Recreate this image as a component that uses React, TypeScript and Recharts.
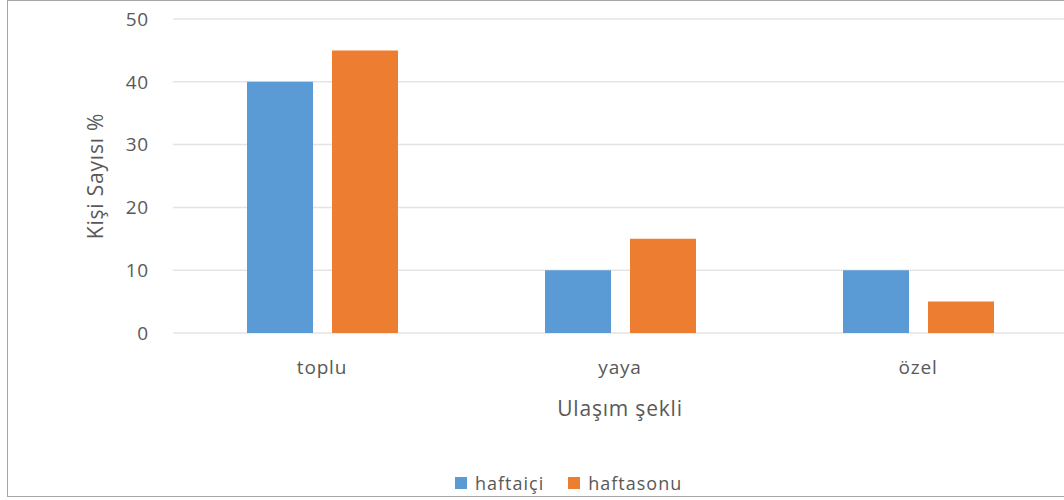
import React from 'react';
import { BarChart, Bar, XAxis, YAxis, CartesianGrid, Legend, Label } from 'recharts';

const categories = ['toplu', 'yaya', 'özel'];
const haftaici = [40, 10, 10];
const haftasonu = [45, 15, 5];
const seriesNames = ['haftaiçi', 'haftasonu'];
const seriesColors = ['#5B9BD5', '#ED7D31'];
const yTicks = [0, 10, 20, 30, 40, 50];

const data = categories.map((name, i) => ({
  name,
  haftaici: haftaici[i],
  haftasonu: haftasonu[i]
}));

const font = '"Open Sans", sans-serif';
const textColor = '#595959';

const renderLegend = () => (
  <div style={{ display: 'flex', alignItems: 'center', fontFamily: font, fontSize: 18, letterSpacing: 1, color: textColor }}>
    {seriesNames.map((s, i) => (
      <div key={s} style={{ display: 'flex', alignItems: 'center', marginRight: 24 }}>
        <div style={{ width: 12, height: 12, backgroundColor: seriesColors[i], marginRight: 8 }}></div>
        <span>{s}</span>
      </div>
    ))}
  </div>
);

export default function App() {
  return (
    <div style={{ position: 'absolute', left: 0, top: 0, width: 1064, height: 500, overflow: 'hidden', background: '#fff' }}>
      <div
        style={{
          position: 'absolute',
          left: 7,
          top: 0,
          width: 1100,
          height: 495,
          borderTop: '1.5px solid #a6a6a6',
          borderLeft: '1.5px solid #a6a6a6',
          borderBottom: '1.5px solid #a6a6a6'
        }}
      ></div>
      <div style={{ position: 'absolute', left: 0, top: 0 }}>
        <BarChart
          width={1067}
          height={500}
          data={data}
          margin={{ top: 19, right: 0, bottom: 2, left: 0 }}
          barSize={66}
          barGap={19}
        >
          <CartesianGrid vertical={false} stroke="#e4e4e4" strokeWidth={1.5} />
          <XAxis
            dataKey="name"
            height={135}
            axisLine={false}
            tickLine={false}
            tickSize={0}
            tickMargin={28}
            tick={{ fill: textColor, fontSize: 19, fontFamily: font, letterSpacing: 0.8 }}
          >
            <Label
              content={({ viewBox }: any) => (
                <text
                  x={viewBox.x + viewBox.width / 2}
                  y={416}
                  textAnchor="middle"
                  fill={textColor}
                  fontSize={21}
                  fontFamily={font}
                  letterSpacing={0.8}
                >
                  Ulaşım şekli
                </text>
              )}
            />
          </XAxis>
          <YAxis
            width={173}
            domain={[0, 50]}
            ticks={yTicks}
            axisLine={false}
            tickLine={false}
            tickSize={0}
            tickMargin={24}
            tick={{ fill: textColor, fontSize: 19, fontFamily: font, letterSpacing: 0.8 }}
          >
            <Label
              content={() => (
                <text
                  x={96}
                  y={176}
                  dy="0.35em"
                  textAnchor="middle"
                  transform="rotate(-90, 96, 176)"
                  fill={textColor}
                  fontSize={21}
                  fontFamily={font}
                  letterSpacing={0.8}
                >
                  Kişi Sayısı %
                </text>
              )}
            />
          </YAxis>
          <Legend
            verticalAlign="bottom"
            align="left"
            content={renderLegend}
            wrapperStyle={{ left: 455, width: 320, height: 30, display: 'flex', alignItems: 'center' }}
          />
          <Bar dataKey="haftaici" name={seriesNames[0]} fill={seriesColors[0]} isAnimationActive={false} />
          <Bar dataKey="haftasonu" name={seriesNames[1]} fill={seriesColors[1]} isAnimationActive={false} />
        </BarChart>
      </div>
    </div>
  );
}
